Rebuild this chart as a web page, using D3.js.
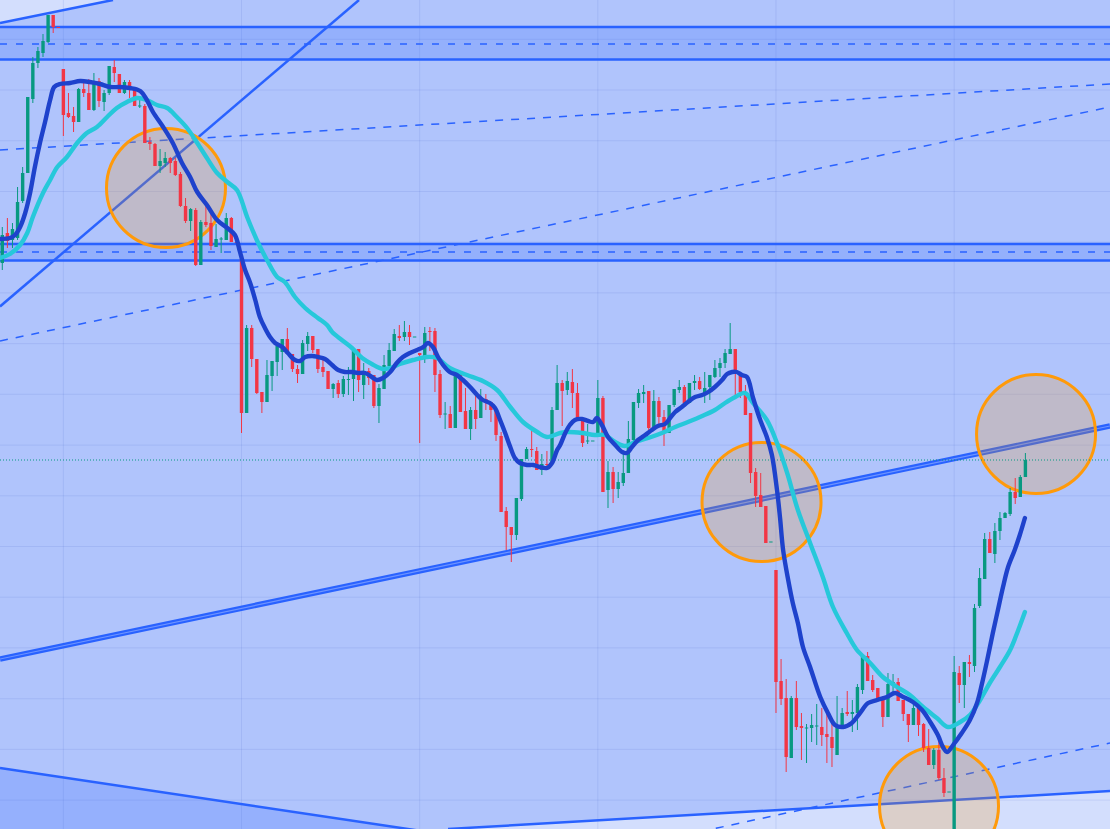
<!DOCTYPE html>
<html><head><meta charset="utf-8">
<script src="https://cdn.jsdelivr.net/npm/d3@7"></script>
<style>html,body{margin:0;padding:0;background:#b0c4fc;overflow:hidden}</style>
</head><body><svg id="c" width="1110" height="829"></svg>
<script>
const opens=[73.7,76.7,76.0,76.2,79.9,82.7,90.1,93.7,94.7,95.8,98.5,97.3,93.1,88.7,88.4,87.8,91.1,90.7,89.0,91.9,89.8,90.7,93.3,92.6,90.7,91.8,91.3,89.4,89.4,85.8,85.6,83.4,83.7,84.2,83.9,82.6,79.4,77.9,79.0,73.5,77.8,77.7,75.3,76.1,76.0,78.2,75.8,74.1,58.7,67.2,64.1,60.8,59.8,62.4,63.8,64.8,66.1,64.6,63.1,62.6,65.6,66.4,65.1,63.3,62.9,61.1,61.7,60.6,62.1,62.1,65.1,61.5,62.9,62.5,59.4,61.1,63.4,64.9,66.4,66.3,66.8,66.3,64.7,64.2,66.9,66.9,62.6,58.6,58.6,57.2,62.6,58.9,57.1,59.0,58.2,60.1,59.8,59.1,56.4,48.9,47.3,46.5,50.1,54.1,55.1,54.9,53.0,53.6,53.6,59.0,61.7,61.0,61.8,60.7,58.1,55.9,55.9,56.3,60.2,51.0,52.8,51.1,51.7,52.7,56.0,59.7,60.6,60.9,57.2,59.9,58.3,56.7,59.5,61.0,61.3,59.7,61.7,61.9,60.7,61.3,62.3,63.2,63.7,64.6,65.1,62.7,60.7,58.7,52.8,50.5,49.4,45.8,43.0,31.9,30.2,24.2,30.2,27.4,27.2,27.2,27.4,27.3,26.6,26.3,24.5,27.3,28.8,28.6,28.7,31.0,34.4,32.0,31.2,30.2,28.3,31.5,31.8,30.0,28.6,27.5,29.2,27.6,25.2,23.5,25.0,22.2,20.8,15.0,32.7,31.5,33.8,33.4,39.4,42.1,46.1,44.6,46.9,48.2,48.6,50.8,50.3,52.3];
const highs=[77.3,78.2,77.7,81.3,83.3,90.3,94.3,95.3,96.6,98.5,98.5,97.3,93.1,90.7,89.3,91.2,91.8,92.1,92.7,92.2,91.0,93.4,94.0,92.6,92.0,92.0,91.3,90.0,89.6,86.3,85.7,85.1,84.8,84.3,84.2,82.8,80.2,79.2,79.2,78.0,79.4,78.7,77.6,76.3,78.7,78.3,75.8,74.1,67.5,67.5,64.1,60.8,64.0,63.9,65.8,66.1,67.2,64.6,63.5,66.0,66.8,66.4,65.1,64.2,62.9,61.7,62.0,62.4,63.3,65.0,65.1,63.7,63.2,62.5,61.6,64.5,65.7,67.1,67.5,67.9,67.5,66.3,64.7,67.3,67.3,67.2,63.0,59.8,59.4,62.9,62.7,61.2,59.3,60.5,61.1,60.6,59.8,59.1,56.8,49.3,47.3,50.2,54.1,55.3,57.3,55.3,54.6,54.9,59.3,63.5,62.0,62.8,63.1,61.7,58.1,57.6,55.9,62.0,60.4,53.9,53.3,52.8,54.7,57.9,59.8,61.1,61.5,60.9,61.0,60.3,59.0,59.5,61.1,62.0,61.5,61.7,62.5,62.3,62.8,62.5,64.0,64.2,65.1,67.7,65.1,62.7,61.5,58.7,53.2,52.7,49.4,45.8,43.0,34.1,32.1,30.4,31.9,28.7,27.6,28.6,29.6,29.2,28.8,27.9,30.4,29.2,30.9,30.0,31.6,34.4,34.8,32.5,31.2,30.4,32.7,32.6,32.2,30.0,28.6,30.3,29.3,27.7,27.1,25.2,26.1,23.2,20.8,34.4,33.4,33.8,34.5,39.6,43.2,46.7,46.8,47.7,48.8,48.8,51.2,52.2,52.5,54.7];
const lows=[73.0,75.2,75.2,76.0,79.7,82.7,89.7,93.2,94.3,95.7,96.7,97.3,86.4,88.2,86.8,87.8,90.3,89.0,88.9,89.3,88.9,90.5,91.8,90.7,90.6,90.2,89.4,89.2,85.7,85.0,83.4,82.7,83.3,82.7,82.4,79.3,77.7,76.9,73.4,73.5,77.3,75.0,75.3,74.7,76.0,75.8,75.8,56.7,58.7,63.3,60.6,58.7,59.8,60.9,62.4,63.0,64.6,62.8,61.7,62.6,64.9,64.7,62.7,62.3,61.1,60.2,60.2,60.3,60.5,59.9,60.8,60.1,61.5,59.2,57.7,61.1,63.4,64.9,65.9,65.9,65.5,66.3,55.7,63.7,64.9,60.8,58.2,57.1,57.2,57.2,58.8,57.1,56.0,57.1,58.2,59.0,57.8,55.9,48.8,45.0,43.8,46.0,49.9,54.1,54.3,53.0,52.5,53.3,53.6,59.0,57.4,60.5,59.2,58.1,55.3,55.6,55.9,56.3,50.8,49.2,49.7,50.2,51.4,52.7,55.8,59.2,59.7,56.7,57.2,57.2,55.4,56.7,59.3,60.7,59.4,59.7,61.0,61.0,59.7,60.0,62.2,62.3,63.2,64.6,60.2,60.2,58.5,51.7,49.3,49.3,45.7,45.8,28.7,29.5,22.8,24.2,27.0,24.0,23.7,25.8,25.5,25.4,23.7,23.3,24.5,27.2,28.4,26.8,27.0,30.6,31.9,30.8,29.8,27.3,28.3,30.7,29.9,27.9,25.8,27.5,26.4,24.8,23.5,23.1,22.0,20.3,20.8,14.0,29.7,29.2,32.3,32.8,39.2,42.1,44.7,43.7,46.0,48.2,48.4,49.6,50.3,52.3];
const closes=[76.5,75.9,77.1,79.8,82.7,90.3,93.7,94.9,95.9,98.5,97.3,97.25,88.5,88.3,87.8,91.1,90.7,89.0,91.8,89.9,90.7,93.4,92.7,90.7,91.8,91.1,89.4,89.45,85.7,85.6,83.4,83.9,84.2,83.7,82.5,79.4,77.9,79.1,73.5,77.8,77.5,75.4,76.1,76.15,78.2,75.8,75.75,58.7,67.2,64.1,60.7,59.8,62.5,63.9,65.4,66.1,64.6,63.1,62.6,65.7,66.4,65.0,63.1,62.8,61.1,61.6,60.6,62.1,62.1,64.9,62.0,62.9,62.2,59.4,61.2,63.5,65.0,66.6,66.2,66.8,66.3,66.35,64.5,66.7,66.85,62.5,58.5,58.65,57.2,62.7,58.8,57.1,59.0,58.1,60.2,59.8,59.0,56.5,48.8,47.3,46.5,50.2,54.1,55.1,55.05,53.0,53.6,53.55,59.0,61.7,60.9,61.9,60.7,58.1,55.7,55.95,55.95,60.2,50.8,52.8,51.1,51.8,52.7,56.1,59.8,60.7,60.8,57.2,59.9,58.3,56.8,59.5,61.1,61.3,59.7,61.7,61.9,61.1,61.2,62.5,63.2,63.7,64.7,65.1,62.7,60.8,58.5,52.7,50.4,49.3,45.7,45.85,31.8,30.1,24.3,30.2,27.3,27.2,27.25,27.5,27.45,26.5,26.3,25.2,27.5,28.7,28.6,28.8,31.3,34.4,31.9,31.0,30.1,28.3,31.6,31.8,29.9,28.6,27.5,29.2,27.5,25.2,23.5,25.0,22.2,20.7,20.85,32.8,31.5,33.8,33.6,39.2,42.2,46.1,44.7,46.9,48.2,48.7,50.8,50.2,52.3,54.0];

const fastMA=[[-0.45,76.1],[1.5,76.2],[2.5,76.5],[3.5,77.3],[4.5,78.7],[5.5,80.8],[6.4,83.3],[7.4,85.7],[8.4,87.8],[9.4,90.0],[10.2,91.3],[11.3,91.6],[13.3,91.7],[15.3,91.9],[17.2,91.8],[19.2,91.6],[21.2,91.3],[23.1,91.3],[25.1,91.2],[27.1,90.9],[28.4,90.0],[29.6,88.8],[31.6,87.3],[33.5,85.7],[35.3,83.7],[36.9,82.3],[38.3,80.8],[40.2,79.5],[42.2,78.0],[44.2,77.2],[45.7,76.5],[46.7,74.8],[47.7,73.0],[48.7,71.7],[49.7,70.0],[50.6,68.3],[51.6,67.2],[52.6,66.3],[53.6,65.7],[55.0,65.3],[56.1,64.7],[57.5,64.0],[58.5,63.9],[59.5,64.3],[60.9,64.4],[62.0,64.3],[63.4,64.1],[64.8,63.5],[66.0,63.0],[67.3,62.8],[68.7,62.8],[69.9,62.7],[71.3,62.7],[72.6,62.3],[73.6,62.0],[74.8,62.2],[76.2,62.8],[77.5,63.7],[78.7,64.3],[80.1,64.7],[81.5,65.0],[82.7,65.3],[83.6,65.7],[84.6,65.3],[85.6,64.3],[86.6,63.5],[87.9,62.8],[89.3,62.5],[90.5,62.0],[91.9,61.3],[93.3,60.5],[94.4,60.0],[95.8,59.7],[96.8,59.2],[97.8,58.0],[98.8,56.7],[99.8,55.3],[100.7,54.2],[101.7,53.7],[103.1,53.5],[104.3,53.5],[105.6,53.3],[107.0,53.2],[108.0,53.7],[109.0,55.0],[109.6,55.5],[110.6,56.7],[111.5,57.5],[112.5,58.0],[113.9,58.1],[115.1,57.9],[116.1,57.8],[116.8,58.2],[117.8,57.5],[119.0,56.3],[120.4,55.5],[121.8,54.8],[122.7,54.7],[123.7,55.3],[124.9,56.0],[126.3,56.5],[127.6,57.0],[128.8,57.4],[130.2,57.6],[131.2,58.2],[132.2,58.8],[133.5,59.3],[134.7,59.8],[136.1,60.3],[137.5,60.5],[138.7,60.8],[140.0,61.3],[141.4,62.0],[142.4,62.6],[143.4,62.8],[144.3,62.8],[145.3,62.5],[146.3,62.3],[147.5,60.2],[148.9,58.0],[150.2,56.3],[151.2,54.5],[152.2,51.0],[152.8,48.2],[153.4,45.0],[154.4,42.0],[155.3,39.7],[156.3,37.7],[157.3,35.3],[158.7,33.3],[160.7,30.3],[162.2,28.7],[163.6,27.5],[165.2,27.3],[166.9,27.7],[168.5,28.7],[170.1,29.7],[171.9,30.0],[173.8,30.3],[175.4,30.7],[177.0,30.3],[178.9,29.8],[180.7,29.0],[182.3,27.8],[183.8,26.5],[184.8,25.3],[185.6,24.8],[186.8,25.5],[188.5,26.7],[190.1,28.0],[191.5,29.7],[192.5,31.7],[193.5,34.0],[194.6,36.7],[195.6,39.0],[196.6,41.3],[197.6,43.3],[198.9,45.0],[199.9,46.5],[200.9,48.2]];
const slowMA=[[-0.45,74.2],[1.5,74.6],[3.5,75.5],[4.9,76.7],[6.0,78.3],[8.0,80.7],[9.4,82.0],[10.8,83.3],[12.7,84.3],[14.7,85.7],[16.6,86.7],[18.6,87.3],[20.6,88.3],[22.5,89.2],[24.5,89.8],[26.5,90.2],[28.4,90.0],[30.4,89.5],[32.4,89.2],[34.3,88.3],[36.3,87.2],[38.3,85.7],[40.2,84.2],[42.2,82.7],[44.2,81.8],[46.1,81.0],[48.1,78.3],[50.0,76.0],[52.0,74.0],[54.0,72.3],[55.5,71.8],[57.5,70.3],[59.5,69.2],[62.0,68.2],[63.8,67.5],[64.8,66.8],[66.7,66.0],[68.7,65.2],[70.7,64.2],[72.6,63.6],[74.8,63.1],[76.2,63.2],[78.1,63.6],[80.7,64.0],[83.4,64.3],[85.4,64.2],[87.9,63.2],[91.3,62.5],[94.4,61.9],[97.2,61.0],[99.8,59.3],[102.3,57.8],[105.1,56.8],[107.0,56.3],[109.6,56.7],[111.1,56.8],[113.9,56.7],[116.4,56.5],[118.4,56.5],[120.4,55.8],[122.3,55.4],[124.3,55.8],[126.9,56.2],[129.6,56.7],[132.2,57.3],[134.7,57.8],[137.5,58.4],[140.0,59.0],[142.0,59.7],[144.0,60.3],[145.9,60.7],[147.5,59.7],[150.2,58.0],[152.2,55.7],[154.2,52.7],[156.3,49.0],[158.7,45.7],[161.2,42.3],[163.2,39.3],[165.9,36.7],[167.9,35.0],[170.5,33.7],[173.0,32.3],[175.8,31.3],[178.3,30.5],[180.9,29.3],[183.6,28.2],[185.8,27.3],[188.2,27.8],[190.1,28.5],[192.1,30.0],[194.0,31.7],[196.0,33.3],[198.0,35.0],[199.6,37.0],[200.9,38.8]];

const gridPrices=[96.07,91.0,85.93,80.85,75.78,70.71,65.64,60.57,55.49,50.42,45.35,40.28,35.21,30.13,25.06,19.99];
const gridIndexes=[12,47,82,117,152,187];
const zoneTops=[97.3,75.6];
const zoneMids=[95.6,74.8];
const zoneBottoms=[94.05,73.95];
const solidLines=[[[-0.45,97.7],[21.75,100]],[[-0.45,69.35],[70.08,100]],[[-0.45,23.2],[83,16.85]],[[87.57,17.1],[217.62,20.9]]];
const dashedLines=[[[-0.45,85.0],[217.62,91.6]],[[-0.45,65.9],[217.62,89.3]],[[137.1,16.83],[217.62,25.7]]];
const channelLine=[[-0.45,34.1],[217.62,57.4]];
const lightAreas=[[[-0.45,100],[-0.45,97.7],[21.75,100]],[[87.57,17.1],[217.62,20.9],[217.62,17.1]]];
const darkAreas=[[[-0.45,23.2],[83,16.85],[-0.45,16.85]]];
const circleCenters=[[32.16,81.2],[149.16,49.8],[203.09,56.6],[184.03,19.4]];
const lastPrice=54.0;

const W=1110,H=829;
const x=d3.scaleLinear().domain([-0.45,217.62]).range([0,W]);
const y=d3.scaleLinear().domain([17.1,100]).range([H,0]);
const svg=d3.select('#c');
svg.append('defs').append('clipPath').attr('id','clip').append('rect').attr('width',W).attr('height',H);
const g=svg.append('g').attr('clip-path','url(#clip)');
g.append('rect').attr('width',W).attr('height',H).attr('fill','#b0c4fc');
const poly=d3.line().x(d=>x(d[0])).y(d=>y(d[1]));
lightAreas.forEach(a=>g.append('path').attr('d',poly(a)+'Z').attr('fill','#d3defd'));
darkAreas.forEach(a=>g.append('path').attr('d',poly(a)+'Z').attr('fill','#95b0fd'));
// grid
g.selectAll('.gh').data(gridPrices).enter().append('line').attr('x1',0).attr('x2',W)
 .attr('y1',d=>y(d)).attr('y2',d=>y(d)).attr('stroke','rgba(70,100,200,0.13)').attr('stroke-width',1);
g.selectAll('.gv').data(gridIndexes).enter().append('line').attr('y1',0).attr('y2',H)
 .attr('x1',d=>x(d)).attr('x2',d=>x(d)).attr('stroke','rgba(70,100,200,0.13)').attr('stroke-width',1);
// zones
zoneTops.forEach((t,k)=>{
  g.append('rect').attr('x',0).attr('width',W).attr('y',y(t)).attr('height',y(zoneBottoms[k])-y(t)).attr('fill','rgba(41,98,255,0.2)');
  [t,zoneBottoms[k]].forEach(v=>g.append('line').attr('x1',0).attr('x2',W).attr('y1',y(v)).attr('y2',y(v)).attr('stroke','#2962ff').attr('stroke-width',2.6));
  g.append('line').attr('x1',0).attr('x2',W).attr('y1',y(zoneMids[k])).attr('y2',y(zoneMids[k])).attr('stroke','#2962ff').attr('stroke-width',1.4).attr('stroke-dasharray','7,9');
});
solidLines.forEach(l=>g.append('path').attr('d',poly(l)).attr('stroke','#2962ff').attr('stroke-width',2.5).attr('fill','none'));
dashedLines.forEach(l=>g.append('path').attr('d',poly(l)).attr('stroke','#2962ff').attr('stroke-width',1.5).attr('stroke-dasharray','8,8').attr('fill','none'));
g.append('path').attr('d',poly(channelLine)).attr('stroke','#2962ff').attr('stroke-width',5.5).attr('fill','none');
g.append('path').attr('d',poly(channelLine)).attr('stroke','#6e94ff').attr('stroke-width',1.2).attr('fill','none');
// circles
g.selectAll('.circ').data(circleCenters).enter().append('circle')
 .attr('cx',d=>x(d[0])).attr('cy',d=>y(d[1])).attr('r',59.5)
 .attr('fill','rgba(255,152,0,0.2)').attr('stroke','#ff9a0a').attr('stroke-width',3);
// price line
g.append('line').attr('x1',0).attr('x2',W).attr('y1',y(lastPrice)).attr('y2',y(lastPrice))
 .attr('stroke','#089981').attr('stroke-width',1).attr('stroke-dasharray','1,2');
// candles
const idx=d3.range(opens.length);
const col=i=>closes[i]>=opens[i]?'#089981':'#f23645';
g.selectAll('.wick').data(idx).enter().append('line')
 .attr('x1',i=>x(i)).attr('x2',i=>x(i)).attr('y1',i=>y(highs[i])).attr('y2',i=>y(lows[i]))
 .attr('stroke',col).attr('stroke-width',1);
g.selectAll('.body').data(idx).enter().append('rect')
 .attr('x',i=>x(i)-1.7).attr('width',3.4)
 .attr('y',i=>y(Math.max(opens[i],closes[i])))
 .attr('height',i=>Math.max(1,Math.abs(y(opens[i])-y(closes[i]))))
 .attr('fill',col);
// moving averages
const ml=d3.line().x(d=>x(d[0])).y(d=>y(d[1])).curve(d3.curveCatmullRom.alpha(0.5));
g.append('path').attr('d',ml(slowMA)).attr('stroke','#26c8da').attr('stroke-width',4.4).attr('fill','none').attr('stroke-linecap','round').attr('stroke-linejoin','round');
g.append('path').attr('d',ml(fastMA)).attr('stroke','#1e42cc').attr('stroke-width',4.4).attr('fill','none').attr('stroke-linecap','round').attr('stroke-linejoin','round');
</script></body></html>
